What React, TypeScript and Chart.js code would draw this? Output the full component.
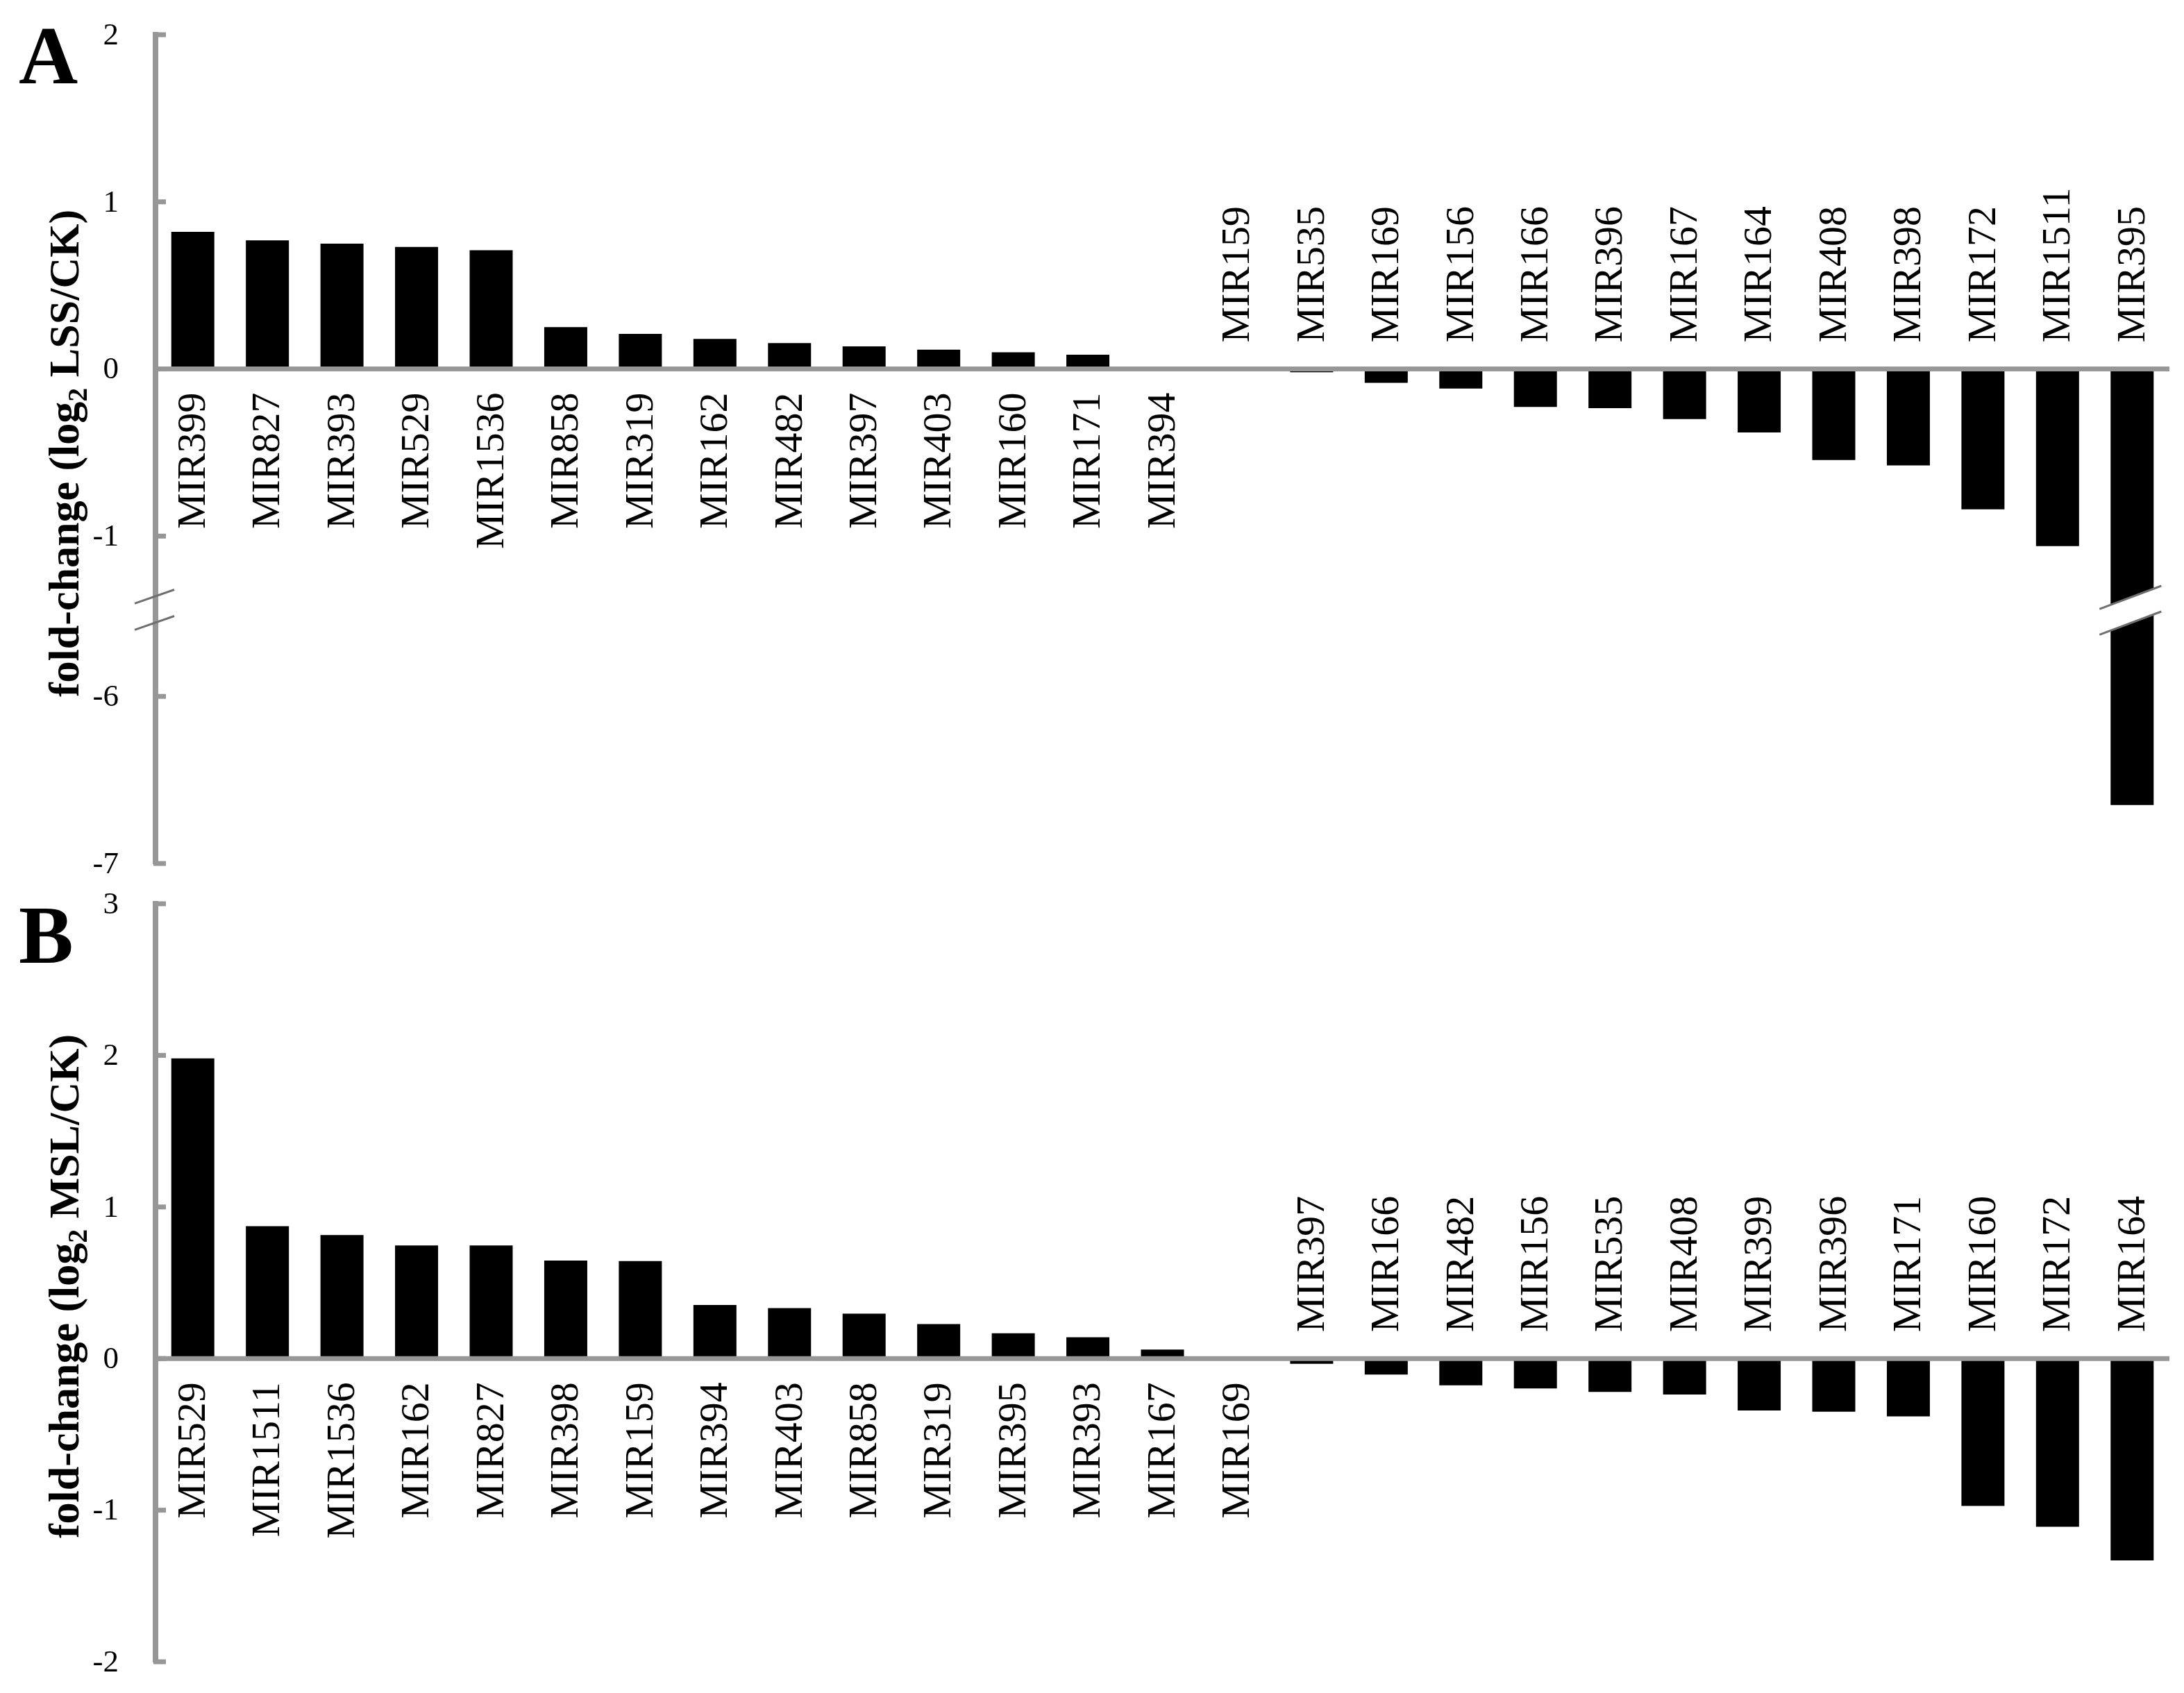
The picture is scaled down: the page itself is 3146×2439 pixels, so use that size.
import React, { useEffect, useRef } from "react";
import { Chart, registerables } from "chart.js";
Chart.register(...registerables);

// ---------- Data ----------
const categoriesA = [
  "MIR399", "MIR827", "MIR393", "MIR529", "MIR1536", "MIR858", "MIR319", "MIR162", "MIR482",
  "MIR397", "MIR403", "MIR160", "MIR171", "MIR394", "MIR159", "MIR535", "MIR169", "MIR156",
  "MIR166", "MIR396", "MIR167", "MIR164", "MIR408", "MIR398", "MIR172", "MIR1511", "MIR395",
];
const valuesA = [
  0.82, 0.77, 0.75, 0.73, 0.71, 0.25, 0.21, 0.18, 0.155,
  0.135, 0.115, 0.1, 0.085, 0, -0.005, -0.02, -0.083, -0.117,
  -0.227, -0.234, -0.3, -0.38, -0.545, -0.577, -0.84, -1.06, -6.65,
];
const tickLabelsA = [2, 1, 0, -1, -6, -7];

const categoriesB = [
  "MIR529", "MIR1511", "MIR1536", "MIR162", "MIR827", "MIR398", "MIR159", "MIR394", "MIR403",
  "MIR858", "MIR319", "MIR395", "MIR393", "MIR167", "MIR169", "MIR397", "MIR166", "MIR482",
  "MIR156", "MIR535", "MIR408", "MIR399", "MIR396", "MIR171", "MIR160", "MIR172", "MIR164",
];
const valuesB = [
  1.98, 0.873, 0.815, 0.746, 0.746, 0.646, 0.643, 0.354, 0.333,
  0.296, 0.228, 0.167, 0.141, 0.059, 0, -0.035, -0.105, -0.176,
  -0.197, -0.22, -0.237, -0.342, -0.35, -0.381, -0.972, -1.109, -1.332,
];
const tickLabelsB = [3, 2, 1, 0, -1, -2];

// axis break for panel A: values below the break are shifted up
const BREAK_AT = -1.44;
const BREAK_SHIFT = 4.041;

const AXIS = "#979797";
const SERIF = '"Liberation Serif", "Times New Roman", serif';

type PanelCfg = {
  categories: string[];
  values: number[];
  tickLabels: number[];
  hasBreak: boolean;
  titleMid: string;
  letter: string;
  width: number;
  height: number;
  padTop: number;
  padBottom: number;
  titleY: number;
  letterY: number;
};

function tf(v: number, hasBreak: boolean) {
  return hasBreak && v < BREAK_AT ? v + BREAK_SHIFT : v;
}

function drawTitle(ctx: CanvasRenderingContext2D, cx: number, cy: number, mid: string) {
  const pre = "fold-change (log";
  const post = " " + mid + "/CK)";
  ctx.save();
  ctx.translate(cx, cy);
  ctx.rotate(-Math.PI / 2);
  const mainF = `bold 62px ${SERIF}`;
  const subF = `bold 40px ${SERIF}`;
  ctx.font = mainF;
  const w1 = ctx.measureText(pre).width;
  const w3 = ctx.measureText(post).width;
  ctx.font = subF;
  const w2 = ctx.measureText("2").width;
  let x = -(w1 + w2 + w3) / 2;
  ctx.fillStyle = "#000";
  ctx.textAlign = "left";
  ctx.textBaseline = "alphabetic";
  ctx.font = mainF;
  ctx.fillText(pre, x, 0);
  x += w1;
  ctx.font = subF;
  ctx.fillText("2", x, 12);
  x += w2;
  ctx.font = mainF;
  ctx.fillText(post, x, 0);
  ctx.restore();
}

function makePlugin(cfg: PanelCfg) {
  return {
    id: "panelDecor",
    afterDatasetsDraw(chart: any) {
      const ctx: CanvasRenderingContext2D = chart.ctx;
      const ys = chart.scales.y;
      const area = chart.chartArea;
      const meta = chart.getDatasetMeta(0);
      const zeroY = ys.getPixelForValue(0);

      ctx.save();
      // bar break
      if (cfg.hasBreak) {
        const by = ys.getPixelForValue(BREAK_AT);
        const m = -0.375;
        const g = 37;
        cfg.values.forEach((v, i) => {
          if (v >= BREAK_AT) return;
          const el = meta.data[i];
          const cx = el.x;
          const hw = el.width / 2;
          const yu = (px: number) => by - g / 2 + m * (px - cx);
          const yl = (px: number) => by + g / 2 + m * (px - cx);
          const x0 = cx - hw - 2;
          const x1 = cx + hw + 2;
          ctx.fillStyle = "#fff";
          ctx.beginPath();
          ctx.moveTo(x0, yu(x0));
          ctx.lineTo(x1, yu(x1));
          ctx.lineTo(x1, yl(x1));
          ctx.lineTo(x0, yl(x0));
          ctx.closePath();
          ctx.fill();
          ctx.strokeStyle = "#6f6f6f";
          ctx.lineWidth = 3;
          const a = cx - 47;
          const b = cx + 42;
          ctx.beginPath();
          ctx.moveTo(a, yu(a));
          ctx.lineTo(b, yu(b));
          ctx.moveTo(a, yl(a));
          ctx.lineTo(b, yl(b));
          ctx.stroke();
        });
        // axis break marks
        const ax = area.left - 1;
        const m2 = -0.35;
        const g2 = 38;
        ctx.strokeStyle = "#6f6f6f";
        ctx.lineWidth = 3;
        ctx.beginPath();
        const a2 = ax - 29;
        const b2 = ax + 28;
        ctx.moveTo(a2, by - g2 / 2 + m2 * (a2 - ax));
        ctx.lineTo(b2, by - g2 / 2 + m2 * (b2 - ax));
        ctx.moveTo(a2, by + g2 / 2 + m2 * (a2 - ax));
        ctx.lineTo(b2, by + g2 / 2 + m2 * (b2 - ax));
        ctx.stroke();
      }

      // zero line
      ctx.strokeStyle = AXIS;
      ctx.lineWidth = 7;
      ctx.beginPath();
      ctx.moveTo(area.left - 3, zeroY);
      ctx.lineTo(area.right, zeroY);
      ctx.stroke();

      // inner tick marks + tick labels
      ctx.font = `45px ${SERIF}`;
      ctx.textAlign = "right";
      ctx.textBaseline = "middle";
      ys.ticks.forEach((t: any, idx: number) => {
        const py = ys.getPixelForValue(t.value);
        ctx.strokeStyle = AXIS;
        ctx.lineWidth = 7;
        ctx.beginPath();
        ctx.moveTo(area.left - 3, py);
        ctx.lineTo(area.left + 15, py);
        ctx.stroke();
        ctx.fillStyle = "#000";
        ctx.fillText(String(cfg.tickLabels[idx]), area.left - 53, py + 2);
      });

      // category labels
      ctx.fillStyle = "#000";
      ctx.font = `58px ${SERIF}`;
      ctx.textBaseline = "middle";
      cfg.categories.forEach((c, i) => {
        const el = meta.data[i];
        const v = cfg.values[i];
        ctx.save();
        if (v >= 0) {
          ctx.translate(el.x + 2, zeroY + 34);
          ctx.rotate(-Math.PI / 2);
          ctx.textAlign = "right";
        } else {
          ctx.translate(el.x + 2, zeroY - 38);
          ctx.rotate(-Math.PI / 2);
          ctx.textAlign = "left";
        }
        ctx.fillText(c, 0, 0);
        ctx.restore();
      });

      // axis title
      drawTitle(ctx, 113, cfg.titleY, cfg.titleMid);

      // panel letter
      ctx.fillStyle = "#000";
      ctx.font = `bold 118px ${SERIF}`;
      ctx.textAlign = "left";
      ctx.textBaseline = "alphabetic";
      ctx.fillText(cfg.letter, 27, cfg.letterY);
      ctx.restore();
    },
  };
}

function Panel({ cfg, top }: { cfg: PanelCfg; top: number }) {
  const ref = useRef<HTMLCanvasElement | null>(null);
  useEffect(() => {
    if (!ref.current) return;
    const hb = cfg.hasBreak;
    const tickVals = cfg.tickLabels.map((t) => tf(t, hb));
    const chart = new Chart(ref.current, {
      type: "bar",
      data: {
        labels: cfg.categories,
        datasets: [
          {
            data: cfg.values.map((v) => tf(v, hb)),
            backgroundColor: "#000",
            borderWidth: 0,
            barPercentage: 0.577,
            categoryPercentage: 1.0,
          },
        ],
      },
      options: {
        animation: false,
        responsive: false,
        devicePixelRatio: 1,
        layout: {
          padding: { left: 0, right: cfg.width - 3125, top: cfg.padTop, bottom: cfg.padBottom },
        },
        plugins: { legend: { display: false }, tooltip: { enabled: false } },
        scales: {
          x: { type: "category", display: false, offset: true },
          y: {
            min: Math.min(...tickVals),
            max: Math.max(...tickVals),
            afterBuildTicks: (scale: any) => {
              scale.ticks = tickVals.map((v) => ({ value: v }));
            },
            afterFit: (scale: any) => {
              scale.width = 224;
            },
            grid: { display: true, drawOnChartArea: false, drawTicks: false },
            border: { display: true, color: AXIS, width: 8 },
            ticks: { display: false },
          },
        },
      },
      plugins: [makePlugin(cfg)],
    });
    return () => chart.destroy();
  }, [cfg]);
  return (
    <canvas
      ref={ref}
      width={cfg.width}
      height={cfg.height}
      style={{ position: "absolute", left: 0, top, width: cfg.width, height: cfg.height }}
    />
  );
}

const cfgA: PanelCfg = {
  categories: categoriesA,
  values: valuesA,
  tickLabels: tickLabelsA,
  hasBreak: true,
  titleMid: "LSS",
  letter: "A",
  width: 3146,
  height: 1270,
  padTop: 50,
  padBottom: 26,
  titleY: 653,
  letterY: 120,
};

const cfgB: PanelCfg = {
  categories: categoriesB,
  values: valuesB,
  tickLabels: tickLabelsB,
  hasBreak: false,
  titleMid: "MSL",
  letter: "B",
  width: 3146,
  height: 1169,
  padTop: 32,
  padBottom: 45,
  titleY: 583,
  letterY: 117,
};

export default function App() {
  return (
    <div style={{ position: "absolute", left: 0, top: 0, width: 3146, height: 2439, background: "#fff" }}>
      <Panel cfg={cfgA} top={0} />
      <Panel cfg={cfgB} top={1270} />
    </div>
  );
}
